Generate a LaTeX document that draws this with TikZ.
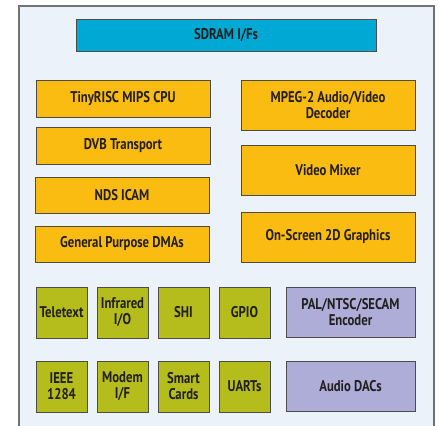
\documentclass[tikz,border=0pt]{standalone}
\usepackage{fontspec}
\setmainfont{PT Sans}[FakeStretch=0.82]
\definecolor{chipbg}{HTML}{EBF2FA}
\definecolor{memcol}{HTML}{00A9D4}
\definecolor{corecol}{HTML}{FBBC12}
\definecolor{periphcol}{HTML}{B5BD1C}
\definecolor{analogcol}{HTML}{ADADD8}
\definecolor{inkcol}{HTML}{231F20}

\begin{document}
\begin{tikzpicture}[x=1pt,y=-1pt,every node/.style={draw=black!70,line width=0.9pt,align=center,inner sep=0pt,text=inkcol,font=\bfseries\fontsize{15.5}{16}\selectfont},mem/.style={fill=memcol},core/.style={fill=corecol,minimum width=174pt},periph/.style={fill=periphcol,minimum width=51pt,minimum height=51pt},analog/.style={fill=analogcol,minimum width=129pt,minimum height=50pt}]
\useasboundingbox (0,0) rectangle (440,426);
\begin{scope}
\clip (0,0) rectangle (440,426);
\draw[fill=chipbg,draw=black!55,line width=1.4pt] (19,6) rectangle (434,450);
\end{scope}
% memory interface
\node[mem,minimum width=300pt,minimum height=32pt] (sdram) at (226,35) {SDRAM I/Fs};
% left column
\node[core,minimum height=37pt] (cpu) at (123,98.5) {TinyRISC MIPS CPU};
\node[core,minimum height=37pt] (dvb) at (123,145.5) {DVB Transport};
\node[core,minimum height=36pt] (icam) at (122,195) {NDS ICAM};
\node[core,minimum height=36pt] (dma) at (122,244) {General Purpose DMAs};
% right column
\node[core,minimum height=50pt] (mpeg) at (328,105) {MPEG-2 Audio/Video\\Decoder};
\node[core,minimum height=50pt] (mixer) at (328,170) {Video Mixer};
\node[core,minimum height=50pt] (osd) at (328,237) {On-Screen 2D Graphics};
% peripherals
\node[periph] (ttx) at (61.5,312.5) {Teletext};
\node[periph] (ir) at (122.5,312.5) {Infrared\\I/O};
\node[periph] (shi) at (183.5,312.5) {SHI};
\node[periph] (gpio) at (244.5,312.5) {GPIO};
\node[periph] (ieee) at (61.5,386.5) {IEEE\\1284};
\node[periph] (modem) at (122.5,386.5) {Modem\\I/F};
\node[periph] (smart) at (183.5,386.5) {Smart\\Cards};
\node[periph] (uart) at (244.5,386.5) {UARTs};
% analog outputs
\node[analog] (enc) at (350.5,312) {PAL/NTSC/SECAM\\Encoder};
\node[analog] (dac) at (350.5,386) {Audio DACs};
\end{tikzpicture}
\end{document}
